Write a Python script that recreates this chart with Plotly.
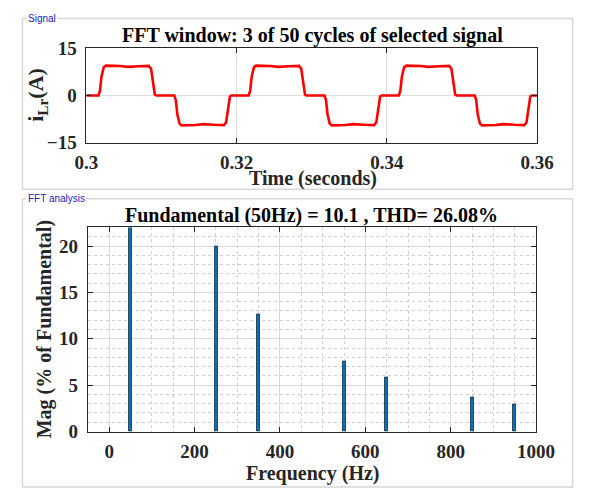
import plotly.graph_objects as go

# ---------------- data ----------------
# Signal breakpoints (3 cycles, 50 Hz)
sig_t = [
    0.3000, 0.3016, 0.3018, 0.3020, 0.3023, 0.3026, 0.3045, 0.3055, 0.3070, 0.3083, 0.3086, 0.3089, 0.3091, 0.3093,
    0.3117, 0.3119, 0.3121, 0.3124, 0.3127, 0.3145, 0.3155, 0.3170, 0.3183, 0.3186, 0.3189, 0.3191, 0.3193,
    0.3216, 0.3218, 0.3220, 0.3223, 0.3226, 0.3245, 0.3255, 0.3270, 0.3283, 0.3286, 0.3289, 0.3291, 0.3293,
    0.3317, 0.3319, 0.3321, 0.3324, 0.3327, 0.3345, 0.3355, 0.3370, 0.3383, 0.3386, 0.3389, 0.3391, 0.3393,
    0.3416, 0.3418, 0.3420, 0.3423, 0.3426, 0.3445, 0.3455, 0.3470, 0.3483, 0.3486, 0.3489, 0.3491, 0.3493,
    0.3517, 0.3519, 0.3521, 0.3524, 0.3527, 0.3545, 0.3555, 0.3570, 0.3583, 0.3586, 0.3589, 0.3591, 0.3593,
    0.3600,
]
sig_i = [
    0.0, 0.0, 1.5, 6.0, 9.0, 9.5, 9.4, 9.1, 9.3, 9.4, 8.5, 3.0, 0.3, 0.0,
    0.0, -1.5, -6.0, -9.0, -9.5, -9.4, -9.1, -9.3, -9.4, -8.5, -3.0, -0.3, 0.0,
    0.0, 1.5, 6.0, 9.0, 9.5, 9.4, 9.1, 9.3, 9.4, 8.5, 3.0, 0.3, 0.0,
    0.0, -1.5, -6.0, -9.0, -9.5, -9.4, -9.1, -9.3, -9.4, -8.5, -3.0, -0.3, 0.0,
    0.0, 1.5, 6.0, 9.0, 9.5, 9.4, 9.1, 9.3, 9.4, 8.5, 3.0, 0.3, 0.0,
    0.0, -1.5, -6.0, -9.0, -9.5, -9.4, -9.1, -9.3, -9.4, -8.5, -3.0, -0.3, 0.0,
    0.0,
]

# FFT harmonic magnitudes (% of fundamental)
harm_freq = [50, 250, 350, 550, 650, 850, 950]
harm_mag = [100.0, 19.97, 12.66, 7.55, 5.8, 3.67, 2.88]

top_xticks = [0.3, 0.32, 0.34, 0.36]
top_xtick_text = ["0.3", "0.32", "0.34", "0.36"]
top_yticks = [-15, 0, 15]
bot_xticks = [0, 200, 400, 600, 800, 1000]
bot_yticks = [0, 5, 10, 15, 20]

title_top = "FFT window: 3 of 50 cycles of selected signal"
title_bot = "Fundamental (50Hz) = 10.1 , THD= 26.08%"

# ---------------- figure ----------------
W, H = 603, 500
def px(x):
    return x / W
def py(y):
    return 1 - y / H

serif = "Liberation Serif"
fig = go.Figure()

fig.add_trace(go.Scatter(x=sig_t, y=sig_i, mode="lines",
                         line=dict(color="#ff0000", width=2.6),
                         xaxis="x", yaxis="y", showlegend=False))

fig.add_trace(go.Bar(x=harm_freq, y=harm_mag, width=7,
                     marker=dict(color="#0072BD", line=dict(color="#1b2a3a", width=0.8)),
                     xaxis="x2", yaxis="y2", showlegend=False))

axis_common = dict(showline=True, linecolor="#262626", linewidth=1, mirror="ticks",
                   ticks="inside", ticklen=5, tickcolor="#262626",
                   tickfont=dict(family=serif, size=19, color="#262626", weight="bold"),
                   zeroline=False)

fig.update_layout(
    width=W, height=H,
    margin=dict(l=0, r=0, t=0, b=0),
    paper_bgcolor="white", plot_bgcolor="white",
    font=dict(family=serif),
    bargap=0,
    xaxis=dict(domain=[px(78.5), px(553.5)], anchor="y", range=[0.3, 0.36],
               tickvals=top_xticks, ticktext=top_xtick_text,
               showgrid=True, gridcolor="#dedede", ticklabelstandoff=3, **axis_common),
    yaxis=dict(domain=[py(138.5), py(40)], anchor="x", range=[-15, 15],
               tickvals=top_yticks, showgrid=True, gridcolor="#dedede",
               ticklabelstandoff=5, **axis_common),
    xaxis2=dict(domain=[px(80), px(552.5)], anchor="y2", range=[-50, 1000],
                tickvals=bot_xticks, showgrid=True, gridcolor="#d9d9d9",
                minor=dict(dtick=50, tick0=0, showgrid=True, griddash="dot",
                           gridcolor="#d0d0d0", ticks=""),
                ticklabelstandoff=3, **axis_common),
    yaxis2=dict(domain=[py(440), py(227)], anchor="x2", range=[0, 22],
                tickvals=bot_yticks, showgrid=True, gridcolor="#d9d9d9",
                minor=dict(dtick=1, tick0=0, showgrid=True, griddash="dot",
                           gridcolor="#d0d0d0", ticks=""),
                ticklabelstandoff=5, **axis_common),
)

# group boxes
for (x0, y0, x1, y1) in [(11, 9, 591, 187), (11, 197, 591, 498)]:
    fig.add_shape(type="rect", xref="paper", yref="paper",
                  x0=px(x0), x1=px(x1), y0=py(y1), y1=py(y0),
                  line=dict(color="#d8d8d8", width=1.5), layer="below")

ann = []
# group box labels
ann.append(dict(text="Signal", x=px(15), y=py(9), xanchor="left", yanchor="middle",
                font=dict(family="Liberation Sans", size=10, color="#2020c0"),
                bgcolor="white", borderpad=1))
ann.append(dict(text="FFT analysis", x=px(15), y=py(197), xanchor="left", yanchor="middle",
                font=dict(family="Liberation Sans", size=10, color="#2020c0"),
                bgcolor="white", borderpad=1))
# titles
ann.append(dict(text="<b>" + title_top + "</b>", x=px(317), y=py(27), xanchor="center", yanchor="middle",
                font=dict(family=serif, size=20, color="black")))
ann.append(dict(text="<b>" + title_bot + "</b>", x=px(316), y=py(215), xanchor="center", yanchor="middle",
                font=dict(family=serif, size=20, color="black")))
# axis titles
ann.append(dict(text="<b>Time (seconds)</b>", x=px(317), y=py(176), xanchor="center", yanchor="middle",
                font=dict(family=serif, size=20, color="#262626")))
ann.append(dict(text="<b>Frequency (Hz)</b>", x=px(317), y=py(484), xanchor="center", yanchor="middle",
                font=dict(family=serif, size=20, color="#262626")))
ann.append(dict(text="<b>i<sub>Lr</sub>(A)</b>", x=px(27), y=py(89), xanchor="center", yanchor="middle",
                textangle=-90, font=dict(family=serif, size=22, color="#262626")))
ann.append(dict(text="<b>Mag (% of Fundamental)</b>", x=px(34), y=py(333), xanchor="center", yanchor="middle",
                textangle=-90, font=dict(family=serif, size=20, color="#262626")))

for a in ann:
    a.setdefault("xref", "paper")
    a.setdefault("yref", "paper")
    a.setdefault("showarrow", False)
fig.update_layout(annotations=ann)

fig.write_html("out.html", config={"displayModeBar": False},
               post_script="document.body.style.margin='0';")
